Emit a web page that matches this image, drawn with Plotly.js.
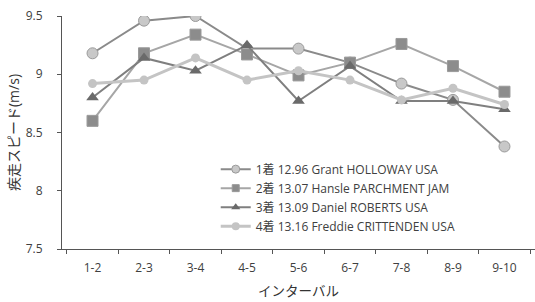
<!DOCTYPE html>
<html>
<head>
<meta charset="utf-8">
<script src="https://cdn.plot.ly/plotly-3.0.1.min.js"></script>
<style>html,body{margin:0;padding:0;background:#fff}#chart{width:535px;height:302px}</style>
</head>
<body>
<div id="chart"></div>
<script>
const intervals = ["1-2","2-3","3-4","4-5","5-6","6-7","7-8","8-9","9-10"];
const names = [
  "1着 12.96 Grant HOLLOWAY USA",
  "2着 13.07 Hansle PARCHMENT JAM",
  "3着 13.09 Daniel ROBERTS USA",
  "4着 13.16 Freddie CRITTENDEN USA"
];
const holloway  = [9.18, 9.46, 9.50, 9.22, 9.22, 9.10, 8.92, 8.78, 8.38];
const parchment = [8.60, 9.18, 9.34, 9.17, 8.99, 9.10, 9.26, 9.07, 8.85];
const roberts   = [8.80, 9.14, 9.03, 9.25, 8.77, 9.07, 8.77, 8.77, 8.70];
const crittenden= [8.92, 8.95, 9.14, 8.95, 9.03, 8.95, 8.78, 8.88, 8.74];
const seriesData = [holloway, parchment, roberts, crittenden];

const font = "'Open Sans', 'Noto Sans CJK JP', sans-serif";
const styles = [
  {line: {color: "#8a8a8a", width: 2}, symbol: "circle", size: 11, lsize: 8, color: "#c8c8c8", edge: {color: "#9a9a9a", width: 1}},
  {line: {color: "#a6a6a6", width: 2}, symbol: "square", size: 11, lsize: 7, color: "#8c8c8c", edge: {color: "#9a9a9a", width: 1}},
  {line: {color: "#7f7f7f", width: 2}, symbol: "triangle-up", size: 11, lsize: 8, color: "#6a6a6a", edge: {color: "#6a6a6a", width: 0}},
  {line: {color: "#c4c4c4", width: 3}, symbol: "circle", size: 9, lsize: 8, color: "#c4c4c4", edge: {color: "#c4c4c4", width: 0}}
];
const traces = [];
seriesData.forEach((ys, i) => {
  const s = styles[i];
  traces.push({x: intervals, y: ys, name: names[i], mode: "lines+markers", showlegend: false,
    line: s.line, marker: {symbol: s.symbol, size: s.size, color: s.color, line: s.edge}});
});
seriesData.forEach((ys, i) => {
  const s = styles[i];
  traces.push({x: [intervals[0]], y: [null], name: names[i], mode: "lines+markers", showlegend: true,
    line: s.line, marker: {symbol: s.symbol, size: s.lsize, color: s.color, line: s.edge}});
});
const layout = {
  width: 535, height: 302,
  margin: {l: 62, r: 0, t: 16, b: 53},
  paper_bgcolor: "#fff", plot_bgcolor: "#fff",
  font: {family: font, size: 12, color: "#404040"},
  showlegend: true,
  legend: {x: 0.325, y: 0.405, xanchor: "left", yanchor: "top", bgcolor: "rgba(0,0,0,0)",
           font: {family: font, size: 12, color: "#404040"}, tracegroupgap: 0, itemwidth: 30},
  xaxis: {type: "category", showline: true, linecolor: "#555", linewidth: 1,
          ticks: "outside", tickson: "boundaries", ticklen: 4, tickcolor: "#555",
          ticklabelstandoff: 8,
          showgrid: false, zeroline: false,
          title: {text: "インターバル", font: {family: font, size: 13.5, color: "#333"}, standoff: 11}},
  yaxis: {range: [7.5, 9.5], dtick: 0.5, showline: true, linecolor: "#555", linewidth: 1,
          ticks: "outside", ticklen: 4, tickcolor: "#555", showgrid: false, zeroline: false,
          ticklabelstandoff: 12,
          title: {text: "疾走スピード(m/s)", font: {family: font, size: 14, color: "#333"}, standoff: 2}}
};
Plotly.newPlot("chart", traces, layout, {displayModeBar: false, staticPlot: true});
</script>
</body>
</html>
